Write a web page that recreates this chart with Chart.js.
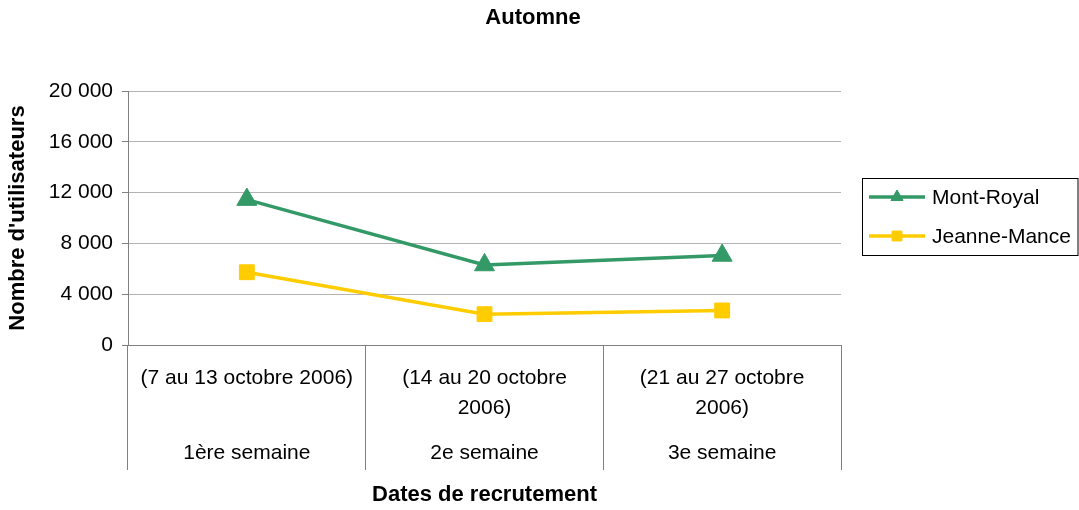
<!DOCTYPE html>
<html>
<head>
<meta charset="utf-8">
<script src="https://cdn.jsdelivr.net/npm/chart.js@4"></script>
<style>
  body { margin: 0; background: #fff; }
  #wrap { width: 1079px; height: 510px; position: relative; }
</style>
</head>
<body>
<div id="wrap"><canvas id="AUTOMNE_CHART"></canvas></div>
<script>
// données
const dateRanges = [
    ['(7 au 13 octobre 2006)'],
    ['(14 au 20 octobre', '2006)'],
    ['(21 au 27 octobre', '2006)']
];
const weeks = ['1ère semaine', '2e semaine', '3e semaine'];
const mountRoyal = [11450, 6300, 7050];
const jeanneMance = [5730, 2430, 2720];
const yTicks = [0, 4000, 8000, 12000, 16000, 20000];

const FONT = "'Liberation Sans', Arial, sans-serif";
const GREEN = '#339966';
const YELLOW = '#FFCC00';

// étiquettes sur deux niveaux (lignes de 15px : 0, 30, 75)
const labels = dateRanges.map((r, i) => [r[0], '', r[1] || '', '', '', weeks[i]]);

function fmt(v) {
    return String(v).replace(/\B(?=(\d{3})+(?!\d))/g, ' ');
}

// légende encadrée façon Excel
const boxLegend = {
    id: 'boxLegend',
    afterDraw(chart) {
        const ctx = chart.ctx;
        const x0 = chart.chartArea.right + 21;
        const top = 178;
        ctx.save();
        ctx.strokeStyle = '#000';
        ctx.lineWidth = 1;
        ctx.strokeRect(x0 + 0.5, top + 0.5, chart.width - x0 - 1.5, 77);
        chart.data.datasets.forEach((ds, i) => {
            const y = top + 19 + i * 39;
            ctx.strokeStyle = ds.borderColor;
            ctx.lineWidth = ds.borderWidth;
            ctx.beginPath();
            ctx.moveTo(x0 + 7, y);
            ctx.lineTo(x0 + 63, y);
            ctx.stroke();
            ctx.fillStyle = ds.pointBackgroundColor;
            ctx.strokeStyle = ds.pointBackgroundColor;
            ctx.lineWidth = 1;
            Chart.helpers.drawPoint(ctx, {pointStyle: ds.pointStyle, radius: 7, borderWidth: 1}, x0 + 35, y);
            ctx.fillStyle = '#000';
            ctx.font = '21px ' + FONT;
            ctx.textBaseline = 'middle';
            ctx.textAlign = 'left';
            ctx.fillText(ds.label, x0 + 70, y + 1);
        });
        ctx.restore();
    }
};

const automneChart = new Chart(document.getElementById('AUTOMNE_CHART').getContext('2d'), {
    type: 'line',
    data: {
        labels: labels,
        datasets: [{
            label: 'Mont-Royal',
            data: mountRoyal,
            borderColor: GREEN,
            backgroundColor: GREEN,
            pointBackgroundColor: GREEN,
            pointBorderColor: GREEN,
            borderWidth: 3.5,
            pointStyle: 'triangle',
            pointRadius: 11.5,
            pointBorderWidth: 1,
            tension: 0
        }, {
            label: 'Jeanne-Mance',
            data: jeanneMance,
            borderColor: YELLOW,
            backgroundColor: YELLOW,
            pointBackgroundColor: YELLOW,
            pointBorderColor: YELLOW,
            borderWidth: 3.5,
            pointStyle: 'rect',
            pointRadius: 10.5,
            pointBorderWidth: 1,
            tension: 0
        }]
    },
    options: {
        responsive: true,
        maintainAspectRatio: false,
        animation: false,
        layout: { padding: { left: 0, right: 13, top: 0, bottom: 0 } },
        plugins: {
            legend: { display: false },
            tooltip: { enabled: false },
            title: {
                display: true,
                text: 'Automne',
                color: '#000',
                font: { family: FONT, size: 22, weight: 'bold' },
                padding: { top: 4.8, bottom: 59.8 }
            }
        },
        scales: {
            x: {
                offset: true,
                afterFit: (s) => { s.height = 165; },
                grid: {
                    offset: true,
                    drawOnChartArea: false,
                    drawTicks: true,
                    tickLength: 125,
                    color: '#808080'
                },
                border: { color: '#808080', width: 1 },
                ticks: {
                    color: '#000',
                    maxRotation: 0,
                    autoSkip: false,
                    padding: -99.5,
                    font: { family: FONT, size: 21, lineHeight: '15px' }
                },
                title: {
                    display: true,
                    text: 'Dates de recrutement',
                    color: '#000',
                    font: { family: FONT, size: 22, weight: 'bold' },
                    padding: { top: 0, bottom: 1.8 }
                }
            },
            y: {
                min: 0,
                max: 20000,
                afterFit: (s) => { s.width = 128; },
                afterBuildTicks: (s) => { s.ticks = yTicks.map(v => ({ value: v })); },
                grid: {
                    color: '#b3b3b3',
                    tickColor: '#808080',
                    tickLength: 6
                },
                border: { color: '#808080', width: 1 },
                ticks: {
                    color: '#000',
                    padding: 9,
                    font: { family: FONT, size: 21 },
                    callback: (v) => fmt(v)
                },
                title: {
                    display: true,
                    text: "Nombre d'utilisateurs",
                    color: '#000',
                    font: { family: FONT, size: 22, weight: 'bold' },
                    padding: { top: 4.8, bottom: 0 }
                }
            },
            // réserve la place de la légende à droite
            legendSpace: {
                type: 'linear',
                position: 'right',
                display: true,
                afterFit: (s) => { s.width = 225; },
                grid: { display: false },
                border: { display: false },
                ticks: { display: false }
            }
        }
    },
    plugins: [boxLegend]
});
</script>
</body>
</html>
